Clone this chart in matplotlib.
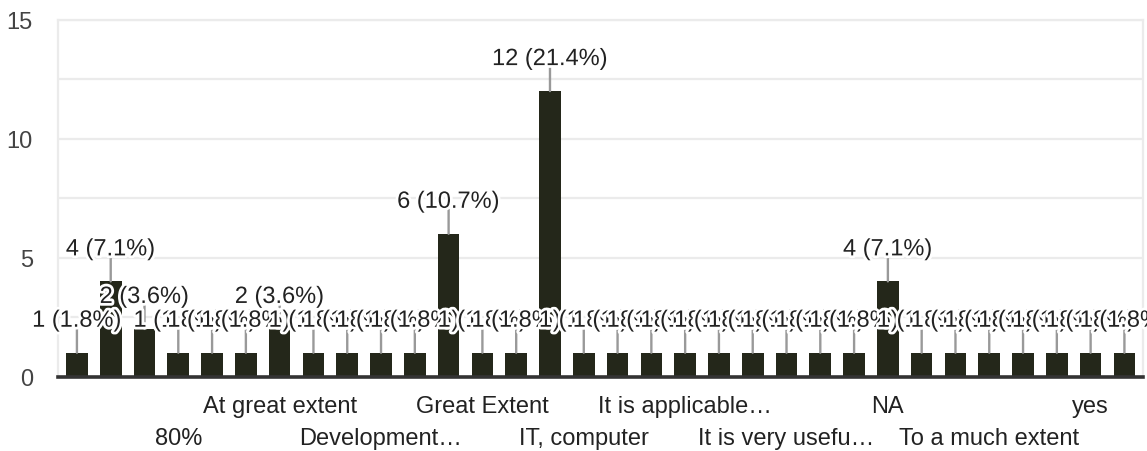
import matplotlib
matplotlib.use("Agg")
import numpy as np
import matplotlib.pyplot as plt
import matplotlib.patheffects as pe
from matplotlib.ticker import MultipleLocator

plt.rcParams['font.family'] = ['Liberation Sans', 'DejaVu Sans']

# responses per answer (alphabetical order, as in the form summary)
counts = [1, 4, 2, 1, 1, 1, 2, 1, 1, 1, 1, 6, 1, 1, 12,
          1, 1, 1, 1, 1, 1, 1, 1, 1, 4, 1, 1, 1, 1, 1, 1, 1]
# only every third label is legible in the picture
categories = ['', '', '', '80%', '', '', 'At great extent', '', '', 'Development…',
              '', '', 'Great Extent', '', '', 'IT, computer', '', '', 'It is applicable…',
              '', '', 'It is very usefu…', '', '', 'NA', '', '', 'To a much extent',
              '', '', 'yes', '']
y_ticks = [0, 5, 10, 15]

total = sum(counts)
x = np.arange(len(counts))

fig = plt.figure(figsize=(11.47, 4.52), dpi=100)
ax = fig.add_axes([58 / 1147, 1 - 377.5 / 452, (1143 - 58) / 1147, (377.5 - 20.7) / 452])

ax.bar(x, counts, width=0.64, color='#24271a', zorder=2)

ax.set_xlim(-0.56, 31.55)
ax.set_ylim(0, 15)
ax.set_yticks(y_ticks)
ax.yaxis.set_minor_locator(MultipleLocator(2.5))
ax.set_xticks([])
ax.set_axisbelow(True)
ax.grid(axis='y', which='both', color='#ebebeb', lw=1.6)
ax.tick_params(axis='y', which='both', length=0, labelsize=17, labelcolor='#444444', pad=18)

for side in ['left', 'right', 'top']:
    ax.spines[side].set_color('#ebebeb')
    ax.spines[side].set_linewidth(1.6)
ax.spines['bottom'].set_color('#333333')
ax.spines['bottom'].set_linewidth(2.6)

# leader lines
for i, v in enumerate(counts):
    ax.annotate('', xy=(i, v), xytext=(0, 17.5), textcoords='offset points',
                arrowprops=dict(arrowstyle='-', color='#999999', lw=1.7,
                                shrinkA=0, shrinkB=0), zorder=3)

# value labels with white halo
for i, v in enumerate(counts):
    t = ax.annotate(f'{v} ({100 * v / total:.1f}%)', xy=(i, v), xytext=(0, 18.7),
                    textcoords='offset points', ha='center', va='baseline',
                    fontsize=17, color='#222222', zorder=4)
    t.set_path_effects([pe.withStroke(linewidth=4, foreground='white')])

# category labels in two staggered rows
for i, name in enumerate(categories):
    if not name:
        continue
    off = 25.6 if i % 6 == 0 else 48.6
    ax.annotate(name, xy=(i, 0), xycoords=('data', 'axes fraction'),
                xytext=(0, -off), textcoords='offset points',
                ha='center', va='baseline', fontsize=17, color='#222222')

fig.savefig('out.png', dpi=100)
